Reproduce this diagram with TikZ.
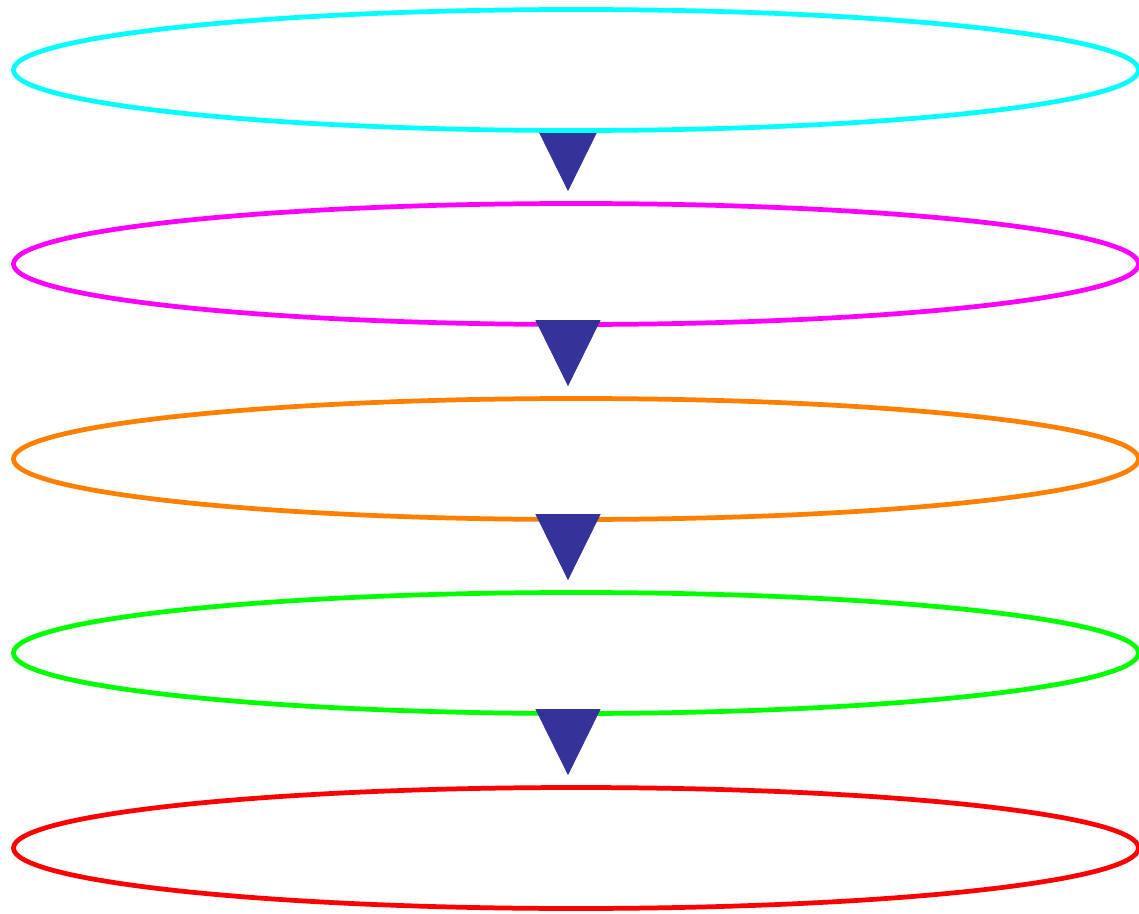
\documentclass[tikz,border=0pt]{standalone}
\usetikzlibrary{shapes.geometric,arrows.meta,backgrounds}
\definecolor{arrowblue}{RGB}{51,51,153}
\definecolor{ringcyan}{RGB}{0,255,255}
\definecolor{ringmagenta}{RGB}{255,0,255}
\definecolor{ringorange}{RGB}{255,128,0}
\definecolor{ringgreen}{RGB}{0,255,0}
\definecolor{ringred}{RGB}{255,0,0}
\begin{document}
\begin{tikzpicture}[x=1cm,y=1cm,
  ring/.style={ellipse, fill=white, line width=2.7pt, inner sep=0pt,
    minimum width=22.5cm, minimum height=2.42cm},
  flow/.style={-{Triangle[width=1.3cm,length=1.32cm]}, arrowblue, shorten >=0.2cm}]
\useasboundingbox (0,0) rectangle (22.78,-18.28);
\node[ring, draw=ringcyan] (a) at (11.52,-1.40) {};
\node[ring, draw=ringmagenta] (b) at (11.52,-5.28) {};
\node[ring, draw=ringorange] (c) at (11.52,-9.18) {};
\node[ring, draw=ringgreen] (d) at (11.52,-13.06) {};
\node[ring, draw=ringred] (e) at (11.52,-16.96) {};
\begin{pgfonlayer}{background}
\draw[flow] ([xshift=-0.16cm]a.south) -- ([xshift=-0.16cm]b.north);
\end{pgfonlayer}
\draw[flow] ([xshift=-0.16cm]b.south) -- ([xshift=-0.16cm]c.north);
\draw[flow] ([xshift=-0.16cm]c.south) -- ([xshift=-0.16cm]d.north);
\draw[flow] ([xshift=-0.16cm]d.south) -- ([xshift=-0.16cm]e.north);
\end{tikzpicture}
\end{document}
